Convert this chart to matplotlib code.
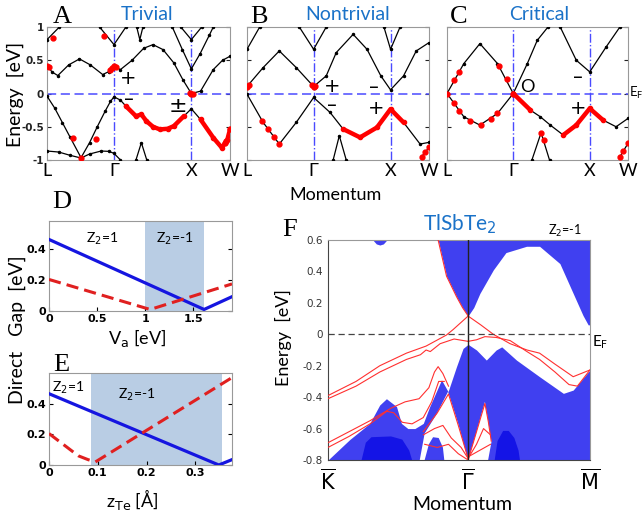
import matplotlib.pyplot as plt

# ---------------- data ----------------
# k-path positions for the bulk band panels (L - Gamma - X - W)
K_PATH = [0.0, 0.866, 1.866, 2.366]
K_LABELS = ["L", "Γ", "X", "W"]

# panel A (trivial): bands as (k, E) points
A_C1 = [(0, 0.41), (0.07, 0.32), (0.14, 0.27), (0.28, 0.43), (0.42, 0.52), (0.56, 0.43), (0.72, 0.285),
        (0.8, 0.33), (0.866, 0.41), (0.95, 0.36), (1.1, 0.5), (1.25, 0.68), (1.37, 0.735), (1.5, 0.66),
        (1.64, 0.46), (1.76, 0.2), (1.866, 0.0), (1.985, 0.035), (2.15, 0.36), (2.27, 0.5), (2.366, 0.56)]
A_C2 = [(1.62, 1.0), (1.75, 0.66), (1.866, 0.37), (1.98, 0.6), (2.1, 0.88), (2.15, 1.0)]
A_C3 = [(1.73, 1.0), (1.866, 0.81), (2.0, 1.0)]
A_C4 = [(0.68, 1.0), (0.866, 0.735), (1.02, 1.0)]
A_C5 = [(1.16, 1.0), (1.2, 0.81), (1.24, 1.0)]
A_C6 = [(0, 0.81), (0.16, 1.0)]
A_V1 = [(0, -0.04), (0.1, -0.22), (0.2, -0.44), (0.3, -0.66), (0.44, -0.965), (0.55, -0.74), (0.65, -0.5),
        (0.75, -0.27), (0.82, -0.12), (0.866, -0.05), (0.95, -0.1), (1.02, -0.19), (1.15, -0.34),
        (1.22, -0.315), (1.285, -0.415), (1.37, -0.5), (1.46, -0.54), (1.56, -0.53), (1.64, -0.49),
        (1.77, -0.34), (1.866, -0.23), (1.985, -0.39), (2.15, -0.665), (2.26, -0.815), (2.33, -0.7),
        (2.366, -0.54)]
A_V2 = [(0, -0.865), (0.15, -0.88), (0.3, -0.93), (0.44, -0.97), (0.55, -0.91), (0.7, -0.865),
        (0.8, -0.87), (0.866, -0.9), (0.95, -1.0)]
A_V3 = [(1.15, -1.0), (1.22, -0.74), (1.29, -1.0)]
A_RED = [(0, 0.41), (0.02, 0.4), (0.077, 0.835), (0.74, 0.86), (0.33, -0.665), (0.63, -0.69), (0.44, -0.965),
         (0.82, 0.35), (0.84, 0.39), (0.866, 0.41), (0.89, 0.4), (1.85, 0.01), (1.866, 0.0), (1.89, 0.0),
         (2.3, -0.75), (2.32, -0.72), (2.366, -0.54)]
A_RED_SEGS = [("v1", 1.0, 1.8), ("v1", 1.95, 2.366)]

# panel B (nontrivial)
B_C1 = [(0, 0.105), (0.21, 0.39), (0.42, 0.64), (0.64, 0.39), (0.866, 0.105), (1.03, 0.265), (1.16, 0.615),
        (1.38, 0.89), (1.56, 0.665), (1.74, 0.265), (1.866, 0.055), (2.035, 0.265), (2.2, 0.64), (2.366, 0.765)]
B_C2 = [(0.68, 1.0), (0.866, 0.665), (1.03, 1.0)]
B_C3 = [(1.78, 1.0), (1.866, 0.665), (1.99, 1.0)]
B_C4 = [(0, 0.665), (0.165, 1.0)]
B_V1 = [(0, -0.01), (0.21, -0.435), (0.42, -0.76), (0.64, -0.435), (0.866, -0.06), (1.08, -0.285),
        (1.25, -0.535), (1.47, -0.66), (1.69, -0.51), (1.866, -0.235), (2.035, -0.435), (2.25, -0.76),
        (2.366, -0.735)]
B_V2 = [(1.12, -1.0), (1.2, -0.635), (1.29, -1.0)]
B_V3 = [(2.27, -0.95), (2.366, -0.81)]
B_RED = [(0, 0.105), (0.02, 0.13), (0.2, -0.41), (0.27, -0.53), (0.35, -0.66), (0.42, -0.76),
         (0.84, 0.13), (0.866, 0.105), (0.88, 0.12), (2.27, -0.95), (2.32, -0.88), (2.366, -0.81)]
B_RED_SEGS = [("v1", 1.1, 2.2)]

# panel C (critical)
C_C1 = [(0, 0.0), (0.22, 0.45), (0.43, 0.75), (0.66, 0.45), (0.866, 0.0)]
C_C2 = [(0.866, 0.0), (1.05, 0.45), (1.18, 0.8), (1.32, 1.0)]
C_C3 = [(1.48, 1.0), (1.69, 0.5), (1.866, 0.325), (2.08, 0.7), (2.26, 1.0)]
C_V1 = [(0, 0.0), (0.22, -0.35), (0.43, -0.475), (0.66, -0.3), (0.866, 0.0)]
C_V2 = [(0.866, 0.0), (1.09, -0.25), (1.22, -0.35), (1.35, -0.475), (1.52, -0.625), (1.69, -0.475),
        (1.866, -0.225), (2.04, -0.4), (2.21, -0.5), (2.366, -0.375)]
C_V3 = [(1.11, -1.0), (1.23, -0.59), (1.34, -1.0)]
C_V4 = [(2.26, -0.95), (2.366, -0.75)]
C_RED = [(0, 0.0), (0.09, 0.2), (0.16, 0.33), (0.68, 0.42), (0.78, 0.22), (0.866, 0.0),
         (0.09, -0.15), (0.16, -0.26), (0.3, -0.42), (0.45, -0.47), (0.58, -0.38), (0.66, -0.3),
         (1.23, -0.59), (1.27, -0.7), (2.26, -0.95), (2.3, -0.86), (2.366, -0.75)]
C_RED_SEGS = [("v2", 0.866, 1.09), ("v2", 1.4, 2.2)]

# panel D: direct gap vs V_a
D_VA = [0.0, 1.61, 1.9]
D_GAP_BLUE = [0.465, 0.01, 0.093]
D_VA_RED = [0.0, 1.05, 1.9]
D_GAP_RED = [0.205, 0.01, 0.176]
D_SHADE = (1.0, 1.61)

# panel E: direct gap vs z_Te
E_Z = [0.0, 0.348, 0.375]
E_GAP_BLUE = [0.465, 0.0, 0.035]
E_Z_RED = [0.0, 0.06, 0.08, 0.095, 0.375]
E_GAP_RED = [0.205, 0.06, 0.035, 0.02, 0.57]
E_SHADE = (0.086, 0.354)

# panel F: TlSbTe2 surface spectrum (K - Gamma - M)
F_KPTS = [0.0, 1.0, 1.87]
F_KLABELS = ["$\\overline{\\mathrm{K}}$", "$\\overline{\\Gamma}$", "$\\overline{\\mathrm{M}}$"]
F_COND = [(0.786, 0.6), (0.846, 0.37), (0.917, 0.24), (0.96, 0.17), (1.0, 0.117), (1.04, 0.17), (1.084, 0.26),
          (1.18, 0.41), (1.27, 0.52), (1.417, 0.56), (1.51, 0.56), (1.655, 0.45), (1.75, 0.26), (1.82, 0.12),
          (1.857, 0.06), (1.87, 0.06)]
F_BLOB = [(0.32, 0.6), (0.345, 0.575), (0.37, 0.568), (0.395, 0.575), (0.42, 0.6)]
F_VAL = [(0, -0.8), (0.155, -0.67), (0.298, -0.567), (0.369, -0.45), (0.417, -0.41), (0.489, -0.46),
         (0.524, -0.567), (0.57, -0.6), (0.62, -0.6), (0.68, -0.567), (0.726, -0.46), (0.81, -0.29),
         (0.857, -0.365), (0.917, -0.206), (0.964, -0.09), (1.0, -0.064), (1.06, -0.1), (1.13, -0.164),
         (1.2, -0.1), (1.24, -0.08), (1.345, -0.164), (1.51, -0.27), (1.68, -0.376), (1.75, -0.355),
         (1.87, -0.227)]
F_HOLE_L = [(0.655, -0.8), (0.69, -0.63), (0.774, -0.51), (0.857, -0.365), (0.93, -0.57), (1.0, -0.8)]
F_HOLE_R = [(1.0, -0.8), (1.06, -0.62), (1.12, -0.43), (1.145, -0.56), (1.167, -0.684), (1.143, -0.8)]
F_HUMP = [(0.69, -0.8), (0.72, -0.7), (0.75, -0.655), (0.79, -0.66), (0.82, -0.72), (0.83, -0.8)]
F_DARK_L = [(0.24, -0.8), (0.27, -0.69), (0.31, -0.655), (0.45, -0.65), (0.53, -0.67), (0.58, -0.74), (0.6, -0.8)]
F_DARK_R = [(1.19, -0.8), (1.21, -0.68), (1.25, -0.615), (1.29, -0.615), (1.33, -0.66), (1.36, -0.74), (1.37, -0.8)]
F_SURF = [
    [(0.786, 0.6), (0.846, 0.37), (0.917, 0.24), (0.96, 0.17), (1.0, 0.117)],
    [(0, -0.39), (0.2, -0.3), (0.37, -0.2), (0.56, -0.12), (0.7, -0.075), (0.845, -0.005), (0.893, 0.03), (1.0, 0.116)],
    [(0, -0.41), (0.2, -0.33), (0.37, -0.24), (0.56, -0.16), (0.66, -0.13), (0.7, -0.1), (0.73, -0.11),
     (0.8, -0.06), (0.9, -0.03), (1.0, -0.045)],
    [(1.0, 0.116), (1.09, 0.06), (1.18, 0.0), (1.3, -0.06), (1.42, -0.1), (1.51, -0.12), (1.62, -0.19),
     (1.75, -0.27), (1.87, -0.227)],
    [(1.0, -0.045), (1.06, -0.035), (1.12, -0.015), (1.2, -0.02), (1.3, -0.04), (1.42, -0.11), (1.51, -0.16),
     (1.62, -0.24), (1.72, -0.32), (1.78, -0.33), (1.87, -0.227)],
    [(0, -0.69), (0.15, -0.62), (0.3, -0.55), (0.45, -0.47), (0.55, -0.43), (0.65, -0.41), (0.72, -0.34),
     (0.76, -0.24), (0.786, -0.206), (0.82, -0.25), (0.86, -0.33)],
    [(0, -0.72), (0.15, -0.65), (0.3, -0.57), (0.42, -0.49), (0.47, -0.5), (0.53, -0.56), (0.6, -0.57),
     (0.68, -0.53), (0.74, -0.43), (0.79, -0.3), (0.83, -0.3)],
    [(0.68, -0.62), (0.78, -0.5), (0.86, -0.38), (0.93, -0.58), (1.0, -0.79)],
    [(0.68, -0.64), (0.76, -0.6), (0.82, -0.58), (0.88, -0.66), (0.95, -0.72), (1.0, -0.79)],
    [(0.69, -0.7), (0.78, -0.72), (0.86, -0.7), (0.93, -0.76), (1.0, -0.8)],
    [(1.0, -0.8), (1.06, -0.62), (1.12, -0.44), (1.145, -0.56), (1.165, -0.68)],
    [(1.0, -0.79), (1.06, -0.7), (1.11, -0.6), (1.16, -0.64)],
    [(1.0, -0.78), (1.08, -0.74), (1.16, -0.7)],
]

# ---------------- drawing ----------------
SANS = ["Lato", "DejaVu Sans"]
SERIF = "Liberation Serif"
TITLE_BLUE = "#1a72c8"
FERMI_BLUE = "#4a4aff"
FILL_BLUE = "#4040f0"
DARK_BLUE = "#1414e6"
SHADE = "#b9cde4"

fig = plt.figure(figsize=(6.42, 5.16), dpi=100)


def box(l, t, r, b):
    return [l / 642, 1 - b / 516, (r - l) / 642, (b - t) / 516]


def ftext(x, y, s, **kw):
    kw.setdefault("ha", "center")
    fig.text(x / 642, 1 - y / 516, s, va="center", **kw)


def xy(points):
    return [p[0] for p in points], [p[1] for p in points]


def band_panel(ax, bands, red_segs, red_dots, show_y):
    for b in bands.values():
        k, e = xy(b)
        ax.plot(k, e, color="black", lw=0.9, marker="o", ms=1.5, zorder=3)
    for name, k0, k1 in red_segs:
        k, e = xy([p for p in bands[name] if k0 <= p[0] <= k1])
        ax.plot(k, e, color="red", lw=3.2, marker="o", ms=3, zorder=4, solid_capstyle="round")
    k, e = xy(red_dots)
    ax.plot(k, e, "o", color="red", ms=3.5, zorder=4, lw=0)
    ax.axhline(0, color=FERMI_BLUE, lw=1.1, ls=(0, (6, 3)), zorder=2)
    for kk in K_PATH[1:3]:
        ax.axvline(kk, color=FERMI_BLUE, lw=1.0, ls="-.", zorder=2)
    ax.set_xlim(K_PATH[0], K_PATH[-1])
    ax.set_ylim(-1, 1)
    ax.set_xticks(K_PATH)
    ax.set_xticklabels(K_LABELS, fontsize=13, family=SANS)
    ax.set_yticks([-1, -0.5, 0, 0.5, 1])
    if show_y:
        ax.set_yticklabels(["-1", "-0.5", "0", "0.5", "1"], fontsize=7.5, fontweight="bold")
    else:
        ax.set_yticklabels([])
    ax.tick_params(axis="x", length=0, pad=2)
    ax.tick_params(axis="y", direction="in", length=3, right=True, pad=2, colors="#222222")
    for s in ax.spines.values():
        s.set_color("#999999")
        s.set_linewidth(0.8)


axA = fig.add_axes(box(47, 27, 230, 160))
band_panel(axA, {"c1": A_C1, "c2": A_C2, "c3": A_C3, "c4": A_C4, "c5": A_C5, "c6": A_C6,
                 "v1": A_V1, "v2": A_V2, "v3": A_V3}, A_RED_SEGS, A_RED, True)
axB = fig.add_axes(box(247, 27, 429, 160))
band_panel(axB, {"c1": B_C1, "c2": B_C2, "c3": B_C3, "c4": B_C4, "v1": B_V1, "v2": B_V2, "v3": B_V3},
           B_RED_SEGS, B_RED, False)
axC = fig.add_axes(box(447, 27, 628, 160))
band_panel(axC, {"c1": C_C1, "c2": C_C2, "c3": C_C3, "v1": C_V1, "v2": C_V2, "v3": C_V3, "v4": C_V4},
           C_RED_SEGS, C_RED, False)

ftext(15, 94, "Energy  [eV]", rotation=90, fontsize=14, family=SANS)
ftext(336, 195, "Momentum", fontsize=13, family=SANS)
for x, letter, tx, title in [(62, "A", 147, "Trivial"), (259, "B", 348, "Nontrivial"), (459, "C", 539, "Critical")]:
    ftext(x, 17, letter, fontsize=19, family=SERIF)
    ftext(tx, 15, title, fontsize=14, family=SANS, color=TITLE_BLUE)

# parity labels
for x, y, s in [(128, 79, "+"), (129, 99, "–"), (332, 86, "+"), (332, 105, "–"),
                (374, 88, "–"), (376, 108, "+"), (578, 78, "–"), (578, 108, "+")]:
    ftext(x, y, s, fontsize=14, color="black")
ftext(178, 106, "±", fontsize=16, color="black")
ftext(527, 87, "O", fontsize=13, family=SANS)
ftext(629, 93, "E$_\\mathrm{F}$", fontsize=9.5, family=SANS, ha="left")


def gap_panel(ax, xb, yb, xr, yr, shade, xlim, ylim, xticks, xticklabels):
    ax.axvspan(shade[0], shade[1], color=SHADE, lw=0, zorder=1)
    ax.plot(xb, yb, color="#1515e0", lw=2.3, zorder=3)
    ax.plot(xr, yr, color="#e02020", lw=2.2, ls=(0, (4, 2)), zorder=3)
    ax.set_xlim(*xlim)
    ax.set_ylim(*ylim)
    ax.set_xticks(xticks)
    ax.set_xticklabels(xticklabels, fontsize=8, fontweight="bold")
    ax.set_yticks([0, 0.2, 0.4])
    ax.set_yticklabels(["0", "0.2", "0.4"], fontsize=8, fontweight="bold")
    ax.tick_params(direction="in", length=3, right=True, pad=2)
    for s in ax.spines.values():
        s.set_color("#999999")
        s.set_linewidth(0.8)


axD = fig.add_axes(box(49, 221, 232, 311))
gap_panel(axD, D_VA, D_GAP_BLUE, D_VA_RED, D_GAP_RED, D_SHADE, (0, 1.9), (0, 0.585),
          [0, 0.5, 1, 1.5], ["0", "0.5", "1", "1.5"])
axE = fig.add_axes(box(49, 373, 232, 465))
gap_panel(axE, E_Z, E_GAP_BLUE, E_Z_RED, E_GAP_RED, E_SHADE, (0, 0.375), (0, 0.6),
          [0, 0.1, 0.2, 0.3], ["0", "0.1", "0.2", "0.3"])

ftext(62, 202, "D", fontsize=19, family=SERIF)
ftext(61, 365, "E", fontsize=19, family=SERIF)
ftext(102, 239, "Z$_2$=1", fontsize=10, family=SANS)
ftext(175, 239, "Z$_2$=-1", fontsize=10, family=SANS)
ftext(68, 388, "Z$_2$=1", fontsize=10, family=SANS)
ftext(137, 395, "Z$_2$=-1", fontsize=10, family=SANS)
ftext(137, 338, "V$_\\mathrm{a}$ [eV]", fontsize=13, family=SANS)
ftext(132, 499, "z$_\\mathrm{Te}$ [Å]", fontsize=13, family=SANS)
ftext(17, 330, "Direct   Gap  [eV]", rotation=90, fontsize=14, family=SANS)

# panel F
axF = fig.add_axes(box(328, 240, 590, 460))
k, e = xy(F_VAL)
axF.fill_between(k, -0.8, e, color=FILL_BLUE, lw=0, zorder=1)
for hole in (F_HOLE_L, F_HOLE_R):
    k, e = xy(hole)
    axF.fill(k, e, color="white", lw=0, zorder=2)
k, e = xy(F_HUMP)
axF.fill(k, e, color=FILL_BLUE, lw=0, zorder=2)
for blob in (F_DARK_L, F_DARK_R):
    k, e = xy(blob)
    axF.fill(k, e, color=DARK_BLUE, lw=0, zorder=2)
k, e = xy(F_COND)
axF.fill_between(k, e, 0.6, color=FILL_BLUE, lw=0, zorder=1)
k, e = xy(F_BLOB)
axF.fill_between(k, e, 0.6, color=FILL_BLUE, lw=0, zorder=1)
for line in F_SURF:
    k, e = xy(line)
    axF.plot(k, e, color="#ff3030", lw=0.8, zorder=3)
axF.axvline(F_KPTS[1], color="#222222", lw=1.0, zorder=4)
axF.axhline(0, color="#444444", lw=0.9, ls=(0, (5, 3)), zorder=4)
axF.set_xlim(F_KPTS[0], F_KPTS[-1])
axF.set_ylim(-0.8, 0.6)
axF.set_xticks(F_KPTS)
axF.set_xticklabels(F_KLABELS, fontsize=15)
axF.set_yticks([-0.8, -0.6, -0.4, -0.2, 0, 0.2, 0.4, 0.6])
axF.set_yticklabels(["-0.8", "-0.6", "-0.4", "-0.2", "0", "0.2", "0.4", "0.6"], fontsize=7.5, color="#333333")
axF.tick_params(axis="x", length=0, pad=6)
axF.tick_params(axis="y", length=0, pad=4)
for s in axF.spines.values():
    s.set_color("#999999")
    s.set_linewidth(0.8)
axF.spines["left"].set_color("#444444")
axF.spines["bottom"].set_color("#444444")

ftext(290, 230, "F", fontsize=19, family=SERIF)
ftext(460, 224, "TlSbTe$_2$", fontsize=15, family=SANS, color=TITLE_BLUE)
ftext(565, 231, "Z$_2$=-1", fontsize=9, family=SANS)
ftext(283, 338, "Energy  [eV]", rotation=90, fontsize=13, family=SANS)
ftext(462, 505, "Momentum", fontsize=14, family=SANS)
ftext(600, 342, "E$_\\mathrm{F}$", fontsize=11, family=SANS)

fig.savefig("out.png", dpi=100)
